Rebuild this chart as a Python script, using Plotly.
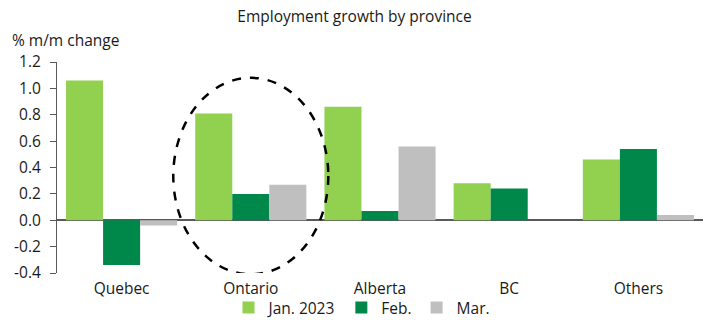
import plotly.graph_objects as go

provinces = ["Quebec", "Ontario", "Alberta", "BC", "Others"]
jan_2023 = [1.06, 0.81, 0.86, 0.28, 0.46]
feb = [-0.34, 0.20, 0.07, 0.24, 0.54]
mar = [-0.04, 0.27, 0.56, 0.00, 0.04]
series_names = ["Jan. 2023", "Feb.", "Mar."]
series_colors = ["#92D050", "#00884A", "#BFBFBF"]
y_tickvals = [-0.4, -0.2, 0.0, 0.2, 0.4, 0.6, 0.8, 1.0, 1.2]
y_ticktext = ["-0.4", "-0.2", "0.0", "0.2", "0.4", "0.6", "0.8", "1.0", "1.2"]

FONT = "Open Sans"
TXT = "#1a1a1a"

fig = go.Figure()
for name, vals, col in zip(series_names, [jan_2023, feb, mar], series_colors):
    fig.add_trace(go.Bar(x=provinces, y=vals, name=name, marker_color=col,
                         marker_line_width=0))

fig.add_shape(type="circle", xref="x", yref="y", x0=0.4, x1=1.6, y0=-0.41, y1=1.08,
              line=dict(color="black", width=2.5, dash="dash"), layer="above")

fig.update_layout(
    width=709, height=320,
    margin=dict(l=57, r=6, t=62, b=47, autoexpand=False),
    paper_bgcolor="white", plot_bgcolor="white",
    font=dict(family=FONT, size=15.5, color=TXT),
    barmode="group", bargap=0.14, bargroupgap=0,
    title=dict(text="Employment growth by province", x=0.5, xref="container",
               xanchor="center", y=1 - 17 / 320, yref="container", yanchor="middle",
               font=dict(size=15.5, family=FONT, color=TXT)),
    showlegend=True,
    legend=dict(orientation="h", xref="container", x=362 / 709, xanchor="center",
                yref="container", y=1 - 308 / 320, yanchor="middle",
                bgcolor="rgba(0,0,0,0)",
                font=dict(size=15.5), itemwidth=30, traceorder="normal",
                tracegroupgap=0),
    annotations=[dict(text="% m/m change", xref="paper", yref="paper",
                      x=-0.072, xanchor="left", y=1.105, yanchor="middle",
                      showarrow=False, font=dict(size=15.5, color=TXT))],
)
fig.update_xaxes(showline=False, ticks="", showgrid=False, tickfont=dict(size=15.5),
                 ticklabelstandoff=4)
fig.update_yaxes(range=[-0.4, 1.2], tickvals=y_tickvals, ticktext=y_ticktext,
                 showgrid=False, showline=True, linecolor="#595959", linewidth=1,
                 ticks="outside", ticklen=6, tickcolor="#595959",
                 zeroline=True, zerolinecolor="#595959", zerolinewidth=1.5,
                 tickfont=dict(size=15.5), ticklabelstandoff=6)

fig.write_html("out.html")
